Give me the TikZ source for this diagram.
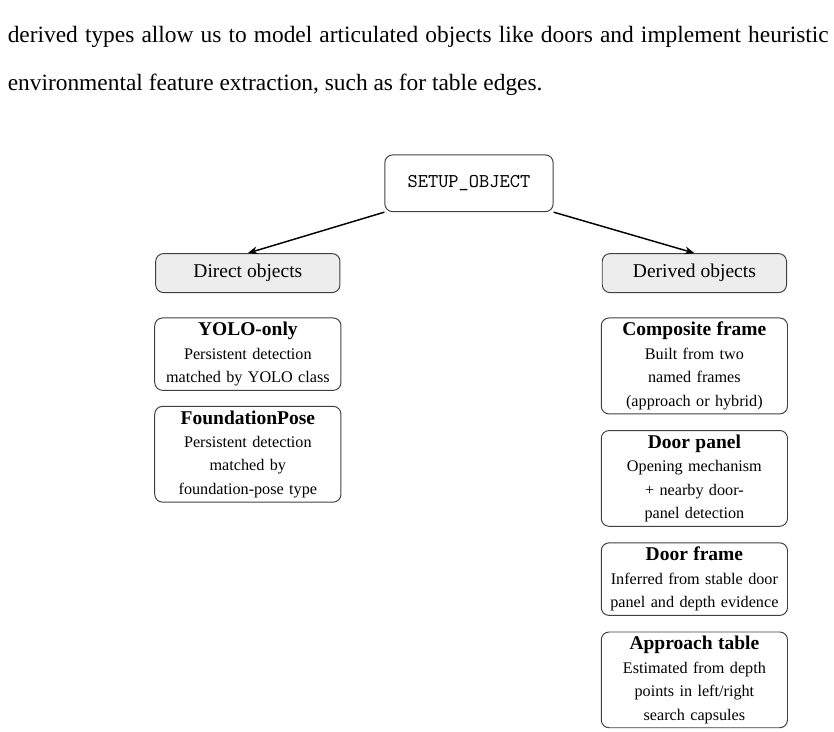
\documentclass[tikz,border=0pt]{standalone}
\usepackage{fontspec}
\setmainfont{Liberation Serif}
\usetikzlibrary{arrows.meta,positioning}
\tikzset{every picture/.style={line width=0.75pt}}
\tikzset{
    setupbox/.style={draw=black!75, line width=0.5pt, rounded corners=4pt,
        minimum width=86.3pt, minimum height=29.1pt,
        font=\ttfamily\fontsize{10}{12}\selectfont},
    groupbox/.style={draw=black!75, line width=0.5pt, rounded corners=4pt,
        fill=black!7, minimum width=94.5pt, minimum height=20pt,
        font=\fontsize{10}{12}\selectfont},
    itembox/.style={draw=black!75, line width=0.5pt, rounded corners=4pt,
        text width=90.5pt, inner xsep=2.5pt, inner ysep=2.2pt, align=center,
        font=\fontsize{8.3}{12}\selectfont},
    introline/.style={anchor=base west, inner sep=0pt,
        font=\fontsize{12}{24}\selectfont},
}
\newcommand{\itemtitle}[1]{{\fontsize{10}{12}\selectfont\bfseries #1}}

\begin{document}
\begin{tikzpicture}
    \useasboundingbox (0,0) rectangle (427.7pt,-374.9pt);
    % running text above the figure
    \node[introline] (intro2) at (3.6pt,-21.9pt)
        {\makebox[421pt][s]{derived types allow us to model articulated objects like doors and implement heuristic}};
    \node[introline] (intro3) at (3.6pt,-46.2pt)
        {environmental feature extraction, such as for table edges.};

    \node[setupbox] (setup) at (240.5pt,-94pt) {SETUP\_OBJECT};
    \node[groupbox, below left=21pt and 22.5pt of setup] (direct) {Direct objects};
    \node[groupbox, below right=21pt and 24.7pt of setup] (derived) {Derived objects};

    % direct objects
    \node[itembox, below=12.5pt of direct] (yolo)
        {\itemtitle{YOLO-only}\\ Persistent detection\\ matched by YOLO class};
    \node[itembox, below=7.7pt of yolo] (fpose)
        {\itemtitle{FoundationPose}\\ Persistent detection\\ matched by\\ foundation-pose type};

    % derived objects
    \node[itembox, below=12.5pt of derived] (composite)
        {\itemtitle{Composite frame}\\ Built from two\\ named frames\\ (approach or hybrid)};
    \node[itembox, below=8pt of composite] (doorpanel)
        {\itemtitle{Door panel}\\ Opening mechanism\\ + nearby door-\\ panel detection};
    \node[itembox, below=8pt of doorpanel] (doorframe)
        {\itemtitle{Door frame}\\ Inferred from stable door\\ panel and depth evidence};
    \node[itembox, below=8pt of doorframe] (approach)
        {\itemtitle{Approach table}\\ Estimated from depth\\ points in left/right\\ search capsules};

    \draw[-{Stealth[length=5pt,width=4pt]}] (setup.south west) -- (direct.north);
    \draw[-{Stealth[length=5pt,width=4pt]}] (setup.south east) -- (derived.north);
\end{tikzpicture}
\end{document}
